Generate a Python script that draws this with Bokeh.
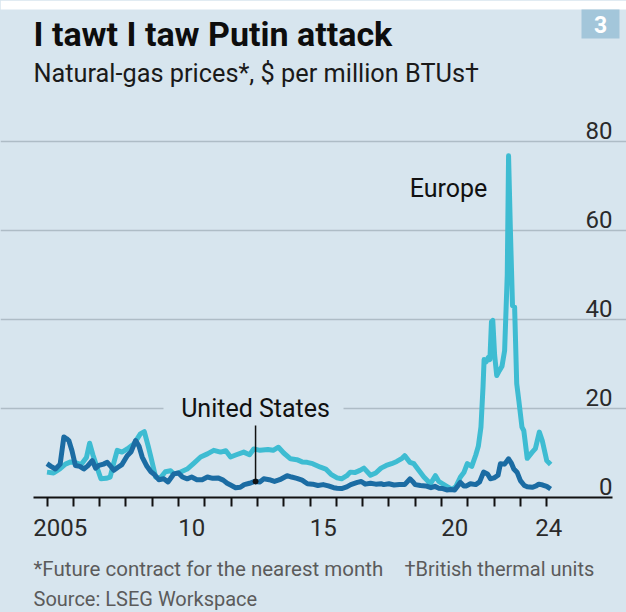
from bokeh.plotting import figure
from bokeh.models import (FixedTicker, Label, BoxAnnotation, ColumnDataSource, Range1d)
from bokeh.layouts import column
from bokeh.core.properties import value
from bokeh.embed import file_html
from bokeh.resources import INLINE

# ---------------- data ----------------
eu_year = [2005.0, 2005.25, 2005.5, 2005.7, 2005.9, 2006.05, 2006.3, 2006.5, 2006.62, 2006.75,
           2006.9, 2007.05, 2007.25, 2007.4, 2007.55, 2007.67, 2007.85, 2008.05, 2008.3, 2008.55,
           2008.7, 2008.85, 2008.95, 2009.13, 2009.3, 2009.5, 2009.7, 2009.82, 2010.0, 2010.33,
           2010.6, 2010.84, 2011.1, 2011.34, 2011.6, 2011.8, 2011.98, 2012.2, 2012.48, 2012.7,
           2012.86, 2013.1, 2013.4, 2013.6, 2013.8, 2014.0, 2014.26, 2014.5, 2014.7, 2014.89,
           2015.1, 2015.4, 2015.6, 2015.8, 2016.03, 2016.2, 2016.4, 2016.53, 2016.7, 2016.9,
           2017.05, 2017.3, 2017.5, 2017.7, 2017.9, 2018.1, 2018.3, 2018.5, 2018.6, 2018.8,
           2018.95, 2019.15, 2019.33, 2019.58, 2019.77, 2019.9, 2020.03, 2020.2, 2020.4, 2020.55,
           2020.72, 2020.85, 2020.98, 2021.15, 2021.3, 2021.4, 2021.5, 2021.58, 2021.62, 2021.7,
           2021.78, 2021.84, 2021.9, 2021.95, 2022.02, 2022.1, 2022.2, 2022.3, 2022.4, 2022.5,
           2022.55, 2022.62, 2022.7, 2022.78, 2022.86, 2022.94, 2023.06, 2023.13, 2023.26, 2023.45,
           2023.57, 2023.72, 2023.83, 2024.0, 2024.15]
eu_price = [5.7, 5.5, 6.5, 7.5, 8.0, 7.9, 7.4, 9.0, 12.2, 9.5,
            6.8, 4.2, 4.3, 4.6, 8.0, 10.6, 10.2, 10.9, 12.0, 14.3,
            14.8, 11.5, 9.1, 4.6, 4.3, 5.8, 6.0, 5.3, 5.5, 6.4,
            7.8, 9.1, 9.8, 10.6, 10.2, 10.5, 9.1, 9.6, 10.2, 9.6,
            10.9, 10.6, 10.8, 10.6, 11.3, 10.0, 8.7, 8.5, 8.0, 7.9,
            7.6, 6.8, 6.4, 5.2, 4.4, 4.2, 4.9, 5.7, 5.6, 6.1,
            6.6, 5.0, 5.5, 6.6, 7.2, 7.6, 8.1, 8.8, 9.4, 7.9,
            7.6, 6.0, 4.6, 3.1, 4.9, 3.6, 3.1, 2.5, 1.8, 2.5,
            4.6, 5.6, 7.6, 7.0, 9.5, 11.5, 15.8, 25.0, 31.0, 30.5,
            31.5, 31.0, 39.5, 39.8, 32.0, 27.4, 28.5, 29.5, 33.0, 50.0,
            76.8, 60.0, 43.1, 42.8, 25.6, 21.8, 15.8, 15.0, 8.8, 10.2,
            11.0, 14.7, 12.8, 8.3, 7.4]

us_year = [2005.0, 2005.15, 2005.32, 2005.5, 2005.64, 2005.75, 2005.83, 2005.95, 2006.08, 2006.25,
           2006.4, 2006.55, 2006.72, 2006.85, 2006.97, 2007.15, 2007.29, 2007.45, 2007.54, 2007.7,
           2007.85, 2008.05, 2008.2, 2008.37, 2008.5, 2008.62, 2008.8, 2008.95, 2009.06, 2009.25,
           2009.44, 2009.6, 2009.82, 2010.0, 2010.15, 2010.33, 2010.5, 2010.7, 2010.9, 2011.1,
           2011.3, 2011.5, 2011.7, 2011.85, 2011.98, 2012.17, 2012.35, 2012.5, 2012.7, 2012.9,
           2013.1, 2013.24, 2013.45, 2013.65, 2013.85, 2014.13, 2014.3, 2014.5, 2014.7, 2014.9,
           2015.1, 2015.3, 2015.5, 2015.7, 2015.9, 2016.03, 2016.2, 2016.4, 2016.55, 2016.8,
           2016.95, 2017.1, 2017.3, 2017.5, 2017.7, 2017.8, 2018.0, 2018.2, 2018.4, 2018.6,
           2018.8, 2018.9, 2019.0, 2019.2, 2019.4, 2019.6, 2019.75, 2019.9, 2020.05, 2020.2,
           2020.35, 2020.5, 2020.72, 2020.85, 2020.95, 2021.1, 2021.3, 2021.45, 2021.6, 2021.75,
           2021.86, 2022.0, 2022.15, 2022.24, 2022.4, 2022.55, 2022.65, 2022.75, 2022.88, 2023.0,
           2023.15, 2023.26, 2023.45, 2023.6, 2023.7, 2023.85, 2024.0, 2024.15]
us_price = [7.6, 7.0, 6.4, 7.5, 13.6, 13.2, 12.8, 10.5, 7.2, 7.0,
            6.4, 7.1, 8.3, 6.6, 7.2, 7.5, 7.9, 6.8, 6.1, 6.8,
            7.4, 9.4, 10.3, 12.8, 11.5, 9.1, 7.0, 5.8, 5.3, 4.0,
            4.2, 3.5, 5.3, 5.5, 4.6, 4.2, 4.6, 4.0, 4.0, 4.6,
            4.3, 4.4, 3.9, 3.2, 2.8, 2.2, 2.3, 2.9, 3.2, 3.6,
            3.5, 4.2, 4.0, 3.6, 4.0, 4.9, 4.6, 4.3, 3.9, 3.1,
            3.0, 2.7, 2.9, 2.6, 2.2, 2.1, 2.0, 2.4, 2.9, 3.4,
            3.6, 3.0, 3.2, 3.0, 3.1, 2.9, 3.1, 2.8, 2.9, 2.9,
            4.2, 3.6, 2.9, 2.7, 2.6, 2.2, 2.5, 2.1, 2.0, 1.7,
            1.8, 1.7, 3.4, 2.6, 2.6, 3.1, 2.9, 3.5, 5.7, 5.3,
            4.2, 4.4, 5.0, 7.6, 7.5, 8.7, 7.8, 6.4, 5.6, 3.8,
            2.7, 2.4, 2.3, 2.6, 3.0, 2.8, 2.5, 1.9]

y_ticks = [0, 20, 40, 60, 80]
x_minor_ticks = list(range(2005, 2025))
x_label_pos = [2005.5, 2010.5, 2015.5, 2020.5, 2024.08]
x_label_text = ["2005", "10", "15", "20", "24"]
us_pointer_year = 2012.93
us_pointer_price = 3.6

# ---------------- styling ----------------
BG = "#d7e5ee"
EU_COL = "#3ebcd2"
US_COL = "#1b6ca3"
GRID = "#aebcc6"
FONT = "Roboto"
W = 626
TOP_PAD = 9            # white strip at the top of the page
AXIS_Y = 497           # page y of the x-axis line (value 0)
MAIN_BOTTOM = 552      # page y where the main figure ends
PX_YEAR = 26.3
PX_UNIT = 4.45
GL, GR = 33, 612       # page x extent of axis line and gridlines

xs = 2005 - 46.5 / PX_YEAR
xe = xs + W / PX_YEAR
ye = AXIS_Y / PX_UNIT

def X(px):
    return xs + px / PX_YEAR

def Y(py):
    return (AXIS_Y - py) / PX_UNIT

p = figure(width=W, height=MAIN_BOTTOM, x_range=(xs, xe), y_range=(0, ye),
           min_border_left=0, min_border_right=0, min_border_top=0,
           min_border_bottom=MAIN_BOTTOM - AXIS_Y,
           toolbar_location=None, output_backend="svg")
p.background_fill_color = BG
p.border_fill_color = BG
p.outline_line_color = None
p.title.visible = False

p.yaxis.visible = False
p.ygrid.ticker = FixedTicker(ticks=[20, 40, 60, 80])
p.ygrid.grid_line_color = GRID
p.ygrid.grid_line_width = 1.5
p.ygrid.bounds = (X(GL), X(GR))
p.xgrid.visible = False

ax = p.xaxis[0]
ax.bounds = (X(GL), X(GR))
ax.ticker = FixedTicker(ticks=x_label_pos, minor_ticks=x_minor_ticks)
ax.major_label_overrides = {k: v for k, v in zip(x_label_pos, x_label_text)}
ax.major_tick_out = 0
ax.major_tick_in = 0
ax.minor_tick_out = 9
ax.minor_tick_in = 0
ax.minor_tick_line_width = 2
ax.minor_tick_line_color = "#111111"
ax.axis_line_width = 2
ax.axis_line_color = "#111111"
ax.major_label_standoff = 12
ax.major_label_text_font = FONT
ax.major_label_text_font_size = "24px"
ax.major_label_text_color = "#2a2a2a"

# white strip at the very top
p.add_layout(BoxAnnotation(left=xs, right=xe, bottom=Y(TOP_PAD), top=ye,
                           fill_color="#ffffff", fill_alpha=1, line_alpha=0))

# gap in the 20 gridline behind the "United States" label
p.add_layout(BoxAnnotation(left=X(163), right=X(343), bottom=19, top=21,
                           fill_color=BG, fill_alpha=1, line_alpha=0, level="underlay"))

# series
p.line(eu_year, eu_price, line_color=EU_COL, line_width=5, line_join="round")
p.line(us_year, us_price, line_color=US_COL, line_width=5, line_join="round")

# pointer for US
p.segment(x0=[us_pointer_year], y0=[us_pointer_price], x1=[us_pointer_year], y1=[Y(425)],
          line_color="#111111", line_width=1.5)
p.scatter([us_pointer_year], [us_pointer_price], size=5, color="#111111")

# y labels on the right
src = ColumnDataSource(dict(x=[X(GR)] * len(y_ticks), y=y_ticks, t=[str(v) for v in y_ticks]))
p.text(x="x", y="y", text="t", source=src, text_align="right", text_baseline="bottom",
       y_offset=-3, text_font=value(FONT), text_font_size="24px", text_color="#2a2a2a")

# series labels
p.add_layout(Label(x=us_pointer_year, y=20, text="United States", text_align="center",
                   text_baseline="middle", text_font=FONT, text_font_size="25px",
                   text_color="#111111"))
p.add_layout(Label(x=X(448), y=Y(188), text="Europe", text_align="center",
                   text_baseline="middle", text_font=FONT, text_font_size="25px",
                   text_color="#111111"))

# title and subtitle
p.add_layout(Label(x=X(33), y=Y(33), text="I tawt I taw Putin attack", text_align="left",
                   text_baseline="middle", text_font=FONT, text_font_size="34px",
                   text_font_style="bold", text_color="#0d0d0d"))
p.add_layout(Label(x=X(33), y=Y(73), text="Natural-gas prices*, $ per million BTUs\u2020",
                   text_align="left", text_baseline="middle", text_font=FONT,
                   text_font_size="25.3px", text_color="#1a1a1a"))

# chart number box
p.add_layout(BoxAnnotation(left=X(581), right=X(619), top=Y(TOP_PAD), bottom=Y(38),
                           fill_color="#a3c6da", fill_alpha=1, line_alpha=0))
p.add_layout(Label(x=X(600), y=Y(24), text="3", text_align="center", text_baseline="middle",
                   text_font=FONT, text_font_size="23px", text_font_style="bold",
                   text_color="#ffffff"))

# footer figure (notes and source)
H_FOOT = 612 - MAIN_BOTTOM
f = figure(width=W, height=H_FOOT, x_range=Range1d(0, W), y_range=Range1d(H_FOOT, 0),
           min_border=0, toolbar_location=None, output_backend="svg")
f.background_fill_color = BG
f.border_fill_color = BG
f.outline_line_color = None
f.title.visible = False
f.axis.visible = False
f.grid.visible = False

def FY(py):
    return py - MAIN_BOTTOM

f.add_layout(Label(x=33, y=FY(568), text="*Future contract for the nearest month",
                   text_align="left", text_baseline="middle", text_font=FONT,
                   text_font_size="20.5px", text_color="#5b5b5b"))
f.add_layout(Label(x=404, y=FY(568), text="\u2020British thermal units",
                   text_align="left", text_baseline="middle", text_font=FONT,
                   text_font_size="20px", text_color="#5b5b5b"))
f.add_layout(Label(x=33, y=FY(598), text="Source: LSEG Workspace",
                   text_align="left", text_baseline="middle", text_font=FONT,
                   text_font_size="20px", text_color="#5b5b5b"))

layout = column(p, f, spacing=0, styles={"background-color": BG, "gap": "0px"})
html = file_html(layout, INLINE)
html = html.replace("</head>",
                    "<style>html,body{margin:0;padding:0;background:%s;}</style></head>" % BG, 1)
open("out.html", "w").write(html)
